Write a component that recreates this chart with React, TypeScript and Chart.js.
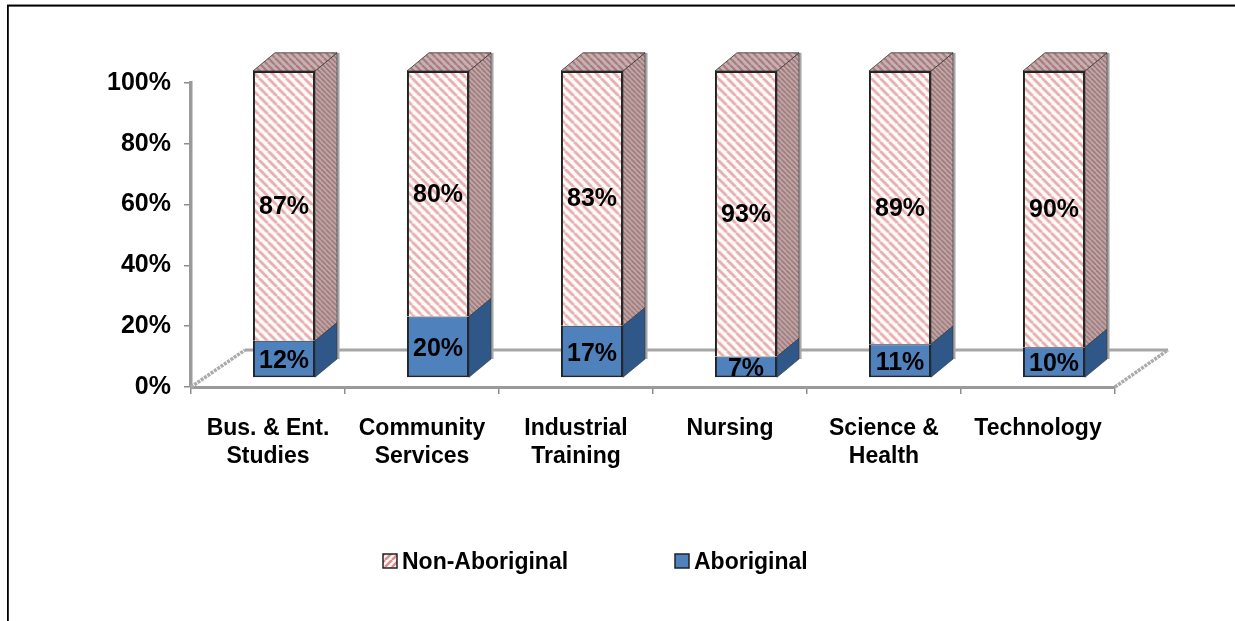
import React, { useEffect, useRef } from "react";
import { Chart, registerables } from "chart.js";

Chart.register(...registerables);

const categories = [
  ["Bus. & Ent.", "Studies"],
  ["Community", "Services"],
  ["Industrial", "Training"],
  ["Nursing"],
  ["Science &", "Health"],
  ["Technology"],
];
const aboriginal = [12, 20, 17, 7, 11, 10];
const nonAboriginal = [87, 80, 83, 93, 89, 90];
const FONT = "'Liberation Sans', Arial, sans-serif";

function hatch(bg: string, line: string, size = 7, lw = 2.2, flip = false) {
  const c = document.createElement("canvas");
  c.width = size;
  c.height = size;
  const g = c.getContext("2d")!;
  g.fillStyle = bg;
  g.fillRect(0, 0, size, size);
  g.strokeStyle = line;
  g.lineWidth = lw;
  for (const o of [-size, 0, size]) {
    g.beginPath();
    g.moveTo(o, flip ? size : 0);
    g.lineTo(o + size, flip ? 0 : size);
    g.stroke();
  }
  return g.createPattern(c, "repeat")!;
}

export default function App() {
  const ref = useRef<HTMLCanvasElement>(null);
  useEffect(() => {
    const front = hatch("#fffafa", "#e6b0b0", 9, 2.8);
    const legendFill = hatch("#fff8f8", "#dc9090", 7, 2.6, true);
    const side = hatch("#bcaaaa", "#a57678", 5, 1.6);
    const top = hatch("#c6b2b2", "#ab7a7c", 7, 2.2);
    const DX = 22, DY = -18, SX = 16, SY = -9, K = 307 / 304;

    const scene = {
      id: "scene",
      beforeDraw(chart: any) {
        const { ctx, width, height } = chart;
        ctx.save();
        ctx.fillStyle = "#fff";
        ctx.fillRect(0, 0, width, height);
        ctx.fillStyle = "#8a8a8a";
        ctx.fillRect(7, 4, width - 7, 1);
        ctx.fillStyle = "#000";
        ctx.fillRect(7, 5, width - 7, 1.6);
        ctx.fillRect(7, 5, 1.8, height - 5);
        ctx.restore();
      },
      beforeDatasetsDraw(chart: any) {
        const { ctx, chartArea: a } = chart;
        ctx.save();
        ctx.strokeStyle = "#a6a6a6";
        ctx.lineWidth = 3;
        ctx.beginPath();
        ctx.moveTo(a.left + 54, a.bottom - 37);
        ctx.lineTo(a.right + 53, a.bottom - 37);
        ctx.stroke();
        ctx.strokeStyle = "#ababab";
        ctx.setLineDash([3, 1]);
        ctx.lineWidth = 3.5;
        ctx.beginPath();
        ctx.moveTo(a.left, a.bottom);
        ctx.lineTo(a.left + 54, a.bottom - 37);
        ctx.moveTo(a.right, a.bottom);
        ctx.lineTo(a.right + 53, a.bottom - 37);
        ctx.stroke();
        ctx.restore();
        const base = a.bottom + SY;
        ctx.save();
        ctx.translate(SX, base);
        ctx.scale(1, K);
        ctx.translate(0, -a.bottom);
      },
      afterDatasetsDraw(chart: any) {
        const { ctx } = chart;
        const low = chart.getDatasetMeta(0).data;
        const high = chart.getDatasetMeta(1).data;
        const half = (b: any) => b.width / 2;
        const sideFace = (b: any, y1: number, y2: number, fill: any) => {
          const x = b.x + half(b);
          ctx.beginPath();
          ctx.moveTo(x, y1);
          ctx.lineTo(x + DX, y1 + DY);
          ctx.lineTo(x + DX, y2 + DY);
          ctx.lineTo(x, y2);
          ctx.closePath();
          ctx.fillStyle = fill;
          ctx.fill();
          ctx.strokeStyle = "#333";
          ctx.lineWidth = 0.6;
          ctx.stroke();
        };
        high.forEach((b: any, i: number) => {
          const l = low[i];
          const h = half(b);
          ctx.fillStyle = "#a8a8a8";
          ctx.fillRect(b.x + h + DX, b.y + DY, 2.5, l.base - b.y);
          sideFace(b, b.y, l.y, side);
          sideFace(l, l.y, l.base, "#2f5787");
          ctx.beginPath();
          ctx.moveTo(b.x - h, b.y);
          ctx.lineTo(b.x - h + DX, b.y + DY);
          ctx.lineTo(b.x + h + DX, b.y + DY);
          ctx.lineTo(b.x + h, b.y);
          ctx.closePath();
          ctx.fillStyle = top;
          ctx.fill();
          ctx.strokeStyle = "#333";
          ctx.lineWidth = 0.8;
          ctx.stroke();
        });
        ctx.fillStyle = "#000";
        ctx.font = `bold 25px ${FONT}`;
        ctx.textAlign = "center";
        ctx.textBaseline = "middle";
        const centre = (b: any) => (b.y + b.base) / 2;
        low.forEach((b: any, i: number) => {
          ctx.fillText(`${aboriginal[i]}%`, b.x, centre(b) + 2);
        });
        high.forEach((b: any, i: number) => {
          ctx.fillText(`${nonAboriginal[i]}%`, b.x, centre(b) + 1);
        });
        ctx.restore();
      },
      afterDraw(chart: any) {
        const { ctx } = chart;
        const ds = chart.data.datasets;
        const y = 561;
        const item = (label: string, x: number, fill: any) => {
          ctx.fillStyle = fill;
          ctx.fillRect(x, y - 7, 14, 14);
          ctx.strokeStyle = "#222";
          ctx.lineWidth = 1.5;
          ctx.strokeRect(x, y - 7, 14, 14);
          ctx.fillStyle = "#000";
          ctx.font = `bold 23px ${FONT}`;
          ctx.textAlign = "left";
          ctx.textBaseline = "middle";
          ctx.fillText(label, x + 19, y + 1.5);
        };
        ctx.save();
        item(ds[1].label, 383, legendFill);
        item(ds[0].label, 675, ds[0].backgroundColor);
        ctx.restore();
      },
    };

    const share = (a: number, i: number, other: number[]) => (a / (a + other[i])) * 100;
    const chart = new Chart(ref.current!, {
      type: "bar",
      data: {
        labels: categories,
        datasets: [
          {
            label: "Aboriginal",
            data: aboriginal.map((v, i) => share(v, i, nonAboriginal)),
            backgroundColor: "#4f81bd",
            borderColor: "#1d2530",
            borderWidth: { top: 1, left: 2, right: 2, bottom: 2 },
            borderSkipped: false,
          },
          {
            label: "Non-Aboriginal",
            data: nonAboriginal.map((v, i) => share(v, i, aboriginal)),
            backgroundColor: front,
            borderColor: "#222",
            borderWidth: { top: 2, left: 2, right: 2, bottom: 0 },
            borderSkipped: false,
          },
        ],
      },
      options: {
        animation: false,
        responsive: false,
        layout: { padding: { left: 0, right: 120, top: 83, bottom: 0 } },
        datasets: { bar: { barPercentage: 0.403, categoryPercentage: 1 } },
        plugins: {
          tooltip: { enabled: false },
          legend: { display: false },
        },
        scales: {
          x: {
            stacked: true,
            afterFit: (s: any) => {
              s.height = 234;
            },
            border: { color: "#9a9a9a", width: 3 },
            grid: { display: true, drawOnChartArea: false, drawTicks: true, tickLength: 7, color: "#8c8c8c", lineWidth: 1.5, offset: true },
            ticks: {
              color: "#000",
              maxRotation: 0,
              autoSkip: false,
              padding: 21,
              font: { family: FONT, size: 23, weight: "bold", lineHeight: 1.22 },
            },
          },
          y: {
            stacked: true,
            min: 0,
            max: 100,
            afterFit: (s: any) => {
              s.width = 191;
            },
            border: { color: "#9a9a9a", width: 3.5 },
            grid: { display: true, drawOnChartArea: false, drawTicks: true, tickLength: 7, color: "#8c8c8c", lineWidth: 1.5 },
            ticks: {
              stepSize: 20,
              color: "#000",
              padding: 13,
              callback: (v: any) => `${v}%`,
              font: { family: FONT, size: 25, weight: "bold" },
            },
          },
        },
      },
      plugins: [scene],
    } as any);
    return () => chart.destroy();
  }, []);
  return (
    <canvas
      ref={ref}
      width={1235}
      height={621}
      style={{ position: "fixed", left: 0, top: 0, display: "block", width: 1235, height: 621 }}
    />
  );
}
